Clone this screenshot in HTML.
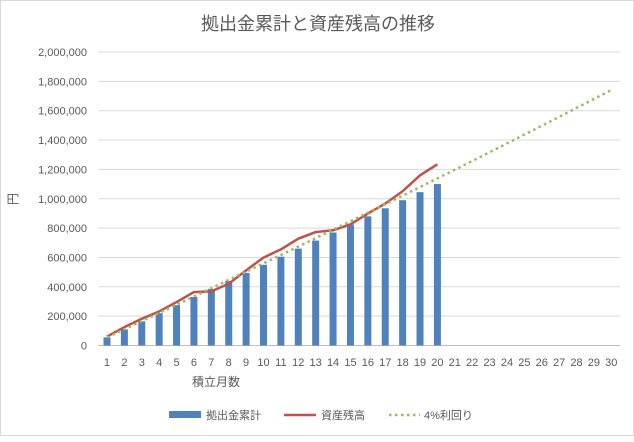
<!DOCTYPE html>
<html><head><meta charset="utf-8">
<style>
body{margin:0;background:#fff;font-family:"Liberation Sans","Noto Sans CJK JP",sans-serif;}
#wrap{width:634px;height:436px;position:relative;border:1px solid #d9d9d9;box-sizing:border-box;}
svg text{font-family:"Liberation Sans","Noto Sans CJK JP",sans-serif;fill:#595959;}
</style></head><body>
<div id="wrap">
<svg id="chart" width="634" height="436"></svg>
</div>
<script>
const categories = [1,2,3,4,5,6,7,8,9,10,11,12,13,14,15,16,17,18,19,20,21,22,23,24,25,26,27,28,29,30];
const contributions = [55000,110000,165000,220000,275000,330000,385000,440000,495000,550000,605000,660000,715000,770000,825000,880000,935000,990000,1045000,1100000];
const assets = [61000,125000,182000,232000,296000,364000,369000,421000,512000,599000,655000,728000,773000,785000,826000,899000,967000,1051000,1160000,1235000];
const yield4 = [55000,111000,166000,222000,278000,334000,390000,447000,503000,560000,617000,674000,731000,789000,847000,905000,963000,1021000,1080000,1139000,1198000,1257000,1317000,1377000,1437000,1497000,1558000,1619000,1680000,1741000];
const yTicks = [0,200000,400000,600000,800000,1000000,1200000,1400000,1600000,1800000,2000000];

const NS="http://www.w3.org/2000/svg";
const svg=document.getElementById('chart');
const L=97.3,R=619,T=51,B=344.5;
const band=(R-L)/categories.length;
const x=i=>L+band*(i+0.5);
const y=v=>B-(v/2000000)*(B-T);
function mk(tag,attrs,parent){const e=document.createElementNS(NS,tag);for(const k in attrs)e.setAttribute(k,attrs[k]);(parent||svg).appendChild(e);return e;}

const title=mk('text',{x:317,y:29,'text-anchor':'middle','font-size':'18'});
title.textContent='拠出金累計と資産残高の推移';



yTicks.forEach(t=>{
  const g=mk('line',{x1:L,x2:R,y1:y(t),y2:y(t),stroke:t===0?'#bfbfbf':'#d9d9d9','stroke-width':1});
  
  
  const tx=mk('text',{x:86,y:y(t)+4,'text-anchor':'end','font-size':'11'});
  tx.textContent=t.toLocaleString('en-US');
  
  
});
categories.forEach((c,i)=>{
  const tx=mk('text',{x:x(i),y:365,'text-anchor':'middle','font-size':'11'});
  tx.textContent=c;
  
  
});
const yt=mk('text',{x:0,y:0,'text-anchor':'middle','font-size':'12',transform:'translate(16,198) rotate(-90)'});
yt.textContent='円';


const xt=mk('text',{x:215,y:385,'text-anchor':'middle','font-size':'12'});
xt.textContent='積立月数';



const bw=7;
contributions.forEach((v,i)=>{
  const r=mk('rect',{x:x(i)-bw/2,y:y(v),width:bw,height:B-y(v),fill:'#4f81bd'});
  
  
});
const aLine=mk('polyline',{points:assets.map((v,i)=>x(i)+','+y(v)).join(' '),fill:'none',stroke:'#c0504d','stroke-width':2.5,'stroke-linejoin':'round'});


const gLine=mk('polyline',{points:yield4.map((v,i)=>x(i)+','+y(v)).join(' '),fill:'none',stroke:'#9bbb59','stroke-width':2.5,'stroke-dasharray':'2.5,3.5'});



// legend
const lr=mk('rect',{x:168,y:410,width:32,height:7,fill:'#4f81bd'});


const lt1=mk('text',{x:205,y:418,'font-size':'11'});lt1.textContent='拠出金累計';


const ll=mk('line',{x1:283,x2:315,y1:414,y2:414,stroke:'#c0504d','stroke-width':2.5});


const lt2=mk('text',{x:320,y:418,'font-size':'11'});lt2.textContent='資産残高';


const lg=mk('line',{x1:388,x2:419,y1:414,y2:414,stroke:'#9bbb59','stroke-width':2.5,'stroke-dasharray':'2.5,3.5'});


const lt3=mk('text',{x:423,y:418,'font-size':'11'});lt3.textContent='4%利回り';


</script>
</body></html>
